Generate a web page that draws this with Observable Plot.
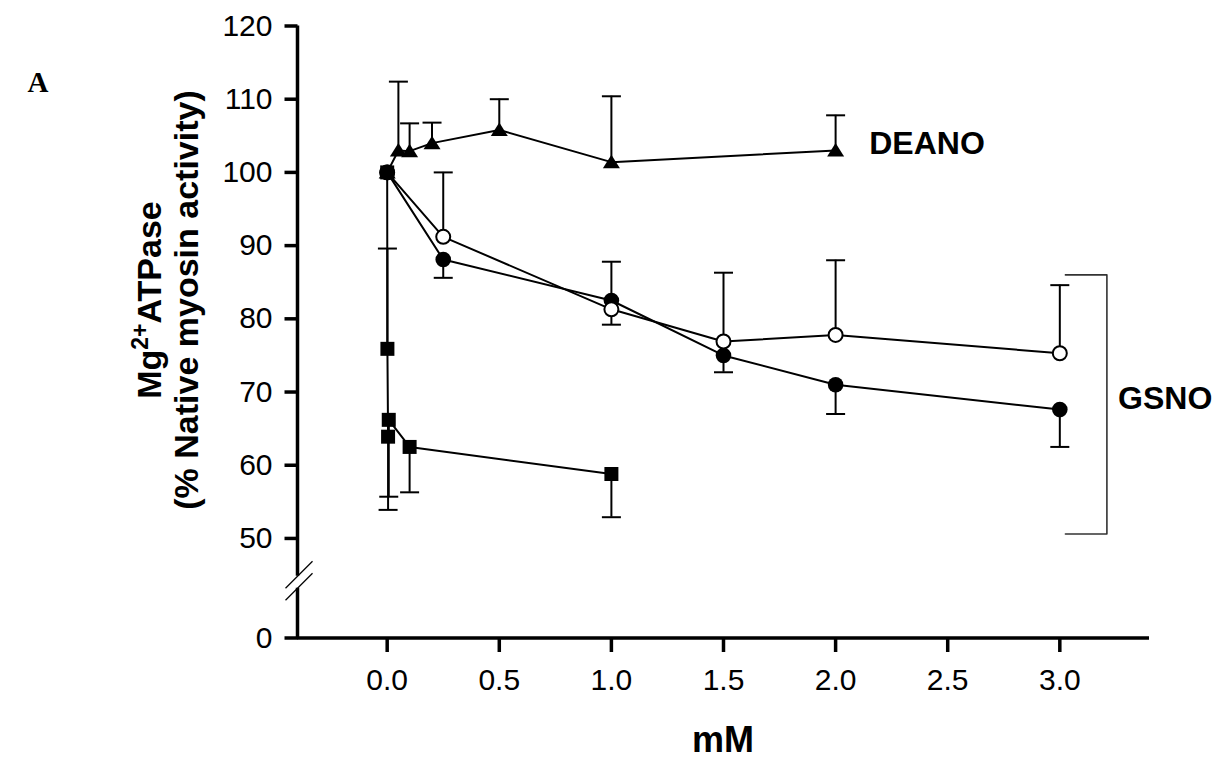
<!DOCTYPE html>
<html><head><meta charset="utf-8">
<script src="https://cdn.jsdelivr.net/npm/d3@7"></script>
<script src="https://cdn.jsdelivr.net/npm/@observablehq/plot@0.6"></script>
<style>
html,body{margin:0;padding:0;background:#fff;overflow:hidden;}
#chart svg{display:block;}
</style></head><body><div id="chart"></div>
<script>
// ---------- data ----------
const deanoX      = [0, 0.05, 0.1, 0.2, 0.5, 1.0, 2.0];
const deanoY      = [100, 103.0, 102.9, 104.0, 105.8, 101.4, 103.0];
const deanoErrHi  = [null, 112.4, 106.7, 106.8, 110.0, 110.4, 107.8];

const gsnoOpenX   = [0, 0.25, 1.0, 1.5, 2.0, 3.0];
const gsnoOpenY   = [100, 91.2, 81.3, 76.9, 77.8, 75.3];
const gsnoOpenErr = [null, 100.0, 87.8, 86.3, 88.0, 84.6];

const gsnoFillX   = [0, 0.25, 1.0, 1.5, 2.0, 3.0];
const gsnoFillY   = [100, 88.1, 82.5, 75.0, 71.0, 67.6];
const gsnoFillErr = [null, 85.6, 79.2, 72.7, 67.0, 62.5];

const squareX     = [0, 0.001, 0.004, 0.007, 0.1, 1.0];
const squareY     = [100, 75.9, 63.9, 66.2, 62.5, 58.8];
const squareErr   = [null, 89.6, 53.9, 55.7, 56.3, 52.9];

const xTicks = [0, 0.5, 1.0, 1.5, 2.0, 2.5, 3.0];
const yTicks = [0, 50, 60, 70, 80, 90, 100, 110, 120];
const yBreak = [25, 31];            // gap in the y axis (data units, lower segment)
const bracketX = [3.025, 3.21, 3.21, 3.025];
const bracketY = [86, 86, 50.6, 50.6];
const labelText = ["DEANO", "GSNO"];
const labelX = [2.15, 3.26];
const labelY = [103.9, 69.1];

// ---------- broken y axis: 0–50 compressed ----------
const lowSpan = 13.6;                       // display units used by the 0–50 segment
const yMap = v => v >= 50 ? v : 50 - (50 - v) / 50 * lowSpan;

// ---------- build ----------
const rows = (xs, ys, es) => xs.map((x, i) => ({x, y: yMap(ys[i]), e: es[i] == null ? null : yMap(es[i])}));
const deano = rows(deanoX, deanoY, deanoErrHi);
const gOpen = rows(gsnoOpenX, gsnoOpenY, gsnoOpenErr);
const gFill = rows(gsnoFillX, gsnoFillY, gsnoFillErr);
const sq = rows(squareX, squareY, squareErr);
const all = [deano, gOpen, gFill, sq];
const errs = all.flat().filter(d => d.e != null);
const tickLabel = new Map(yTicks.map(t => [yMap(t), String(t)]));

const capSym = {draw(c){ c.moveTo(-9.5,0); c.lineTo(9.5,0); }};
const triSym = {draw(c){ c.moveTo(0,-7.5); c.lineTo(8.5,6); c.lineTo(-8.5,6); c.closePath(); }};
const sqSym  = {draw(c){ c.rect(-7,-7,14,14); }};
const slashSym = {draw(c){ c.moveTo(-12,12); c.lineTo(15,-15); }};
const yTickSym = {draw(c){ c.moveTo(-13,0); c.lineTo(0,0); }};
const xTickSym = {draw(c){ c.moveTo(0,0); c.lineTo(0,14); }};

const font = "'Liberation Sans', Arial, Helvetica, sans-serif";
const y0 = yMap(0);
const AX = 3.5;

const plot = Plot.plot({
  width: 1227, height: 762,
  marginLeft: 297, marginRight: 78, marginTop: 25.5, marginBottom: 124.5,
  style: {fontFamily: font, background: "#fff", color: "#000"},
  x: {domain: [-0.4, 3.4]},
  y: {domain: [y0, 120]},
  marks: [
    // axes
    Plot.ruleY([y0], {stroke: "#000", strokeWidth: AX}),
    Plot.ruleX([{a: y0, b: yMap(yBreak[0])}, {a: yMap(yBreak[1]), b: 120}], {x: () => -0.4, y1: "a", y2: "b", stroke: "#000", strokeWidth: AX}),
    Plot.dot(yBreak, {x: () => -0.4, y: d => yMap(d), symbol: slashSym, stroke: "#000", strokeWidth: 1.2, fill: "none"}),
    Plot.dot(yTicks, {x: () => -0.4, y: d => yMap(d), symbol: yTickSym, stroke: "#000", strokeWidth: AX, fill: "none"}),
    Plot.dot(xTicks, {x: d => d, y: () => y0, symbol: xTickSym, stroke: "#000", strokeWidth: AX, fill: "none"}),
    Plot.axisY({ticks: yTicks.map(yMap), tickFormat: d => tickLabel.get(d), tickSize: 0, tickPadding: 25, fontSize: 30, label: null, anchor: "left"}),
    Plot.axisX({ticks: xTicks, tickFormat: d3.format(".1f"), tickSize: 0, tickPadding: 31, fontSize: 30, label: null, anchor: "bottom"}),
    // connecting lines
    ...all.map(s => Plot.line(s, {x: "x", y: "y", stroke: "#000", strokeWidth: 2})),
    // error bars
    Plot.ruleX(errs, {x: "x", y1: "y", y2: "e", stroke: "#000", strokeWidth: 2}),
    Plot.dot(errs, {x: "x", y: "e", symbol: capSym, stroke: "#000", strokeWidth: 2, fill: "none"}),
    // GSNO bracket
    Plot.line(bracketX.map((x, i) => ({x, y: bracketY[i]})), {x: "x", y: "y", stroke: "#333", strokeWidth: 1.6}),
    // markers
    Plot.dot(gFill, {x: "x", y: "y", r: 7.8, fill: "#000", stroke: "none"}),
    Plot.dot(gOpen, {x: "x", y: "y", r: 7, fill: "#fff", stroke: "#000", strokeWidth: 2}),
    Plot.dot(deano, {x: "x", y: "y", symbol: triSym, fill: "#000", stroke: "none"}),
    Plot.dot(sq, {x: "x", y: "y", symbol: sqSym, fill: "#000", stroke: "none"}),
    // series labels
    Plot.text(labelText.map((t, i) => ({t, x: labelX[i], y: labelY[i]})), {x: "x", y: "y", text: "t", textAnchor: "start", fontSize: 32, fontWeight: "bold", fill: "#000"})
  ]
});

const svg = d3.select(plot);
// y-axis title (two lines, rotated)
const yt = svg.append("g").attr("font-family", font).attr("font-weight", "bold").attr("font-size", 34).attr("text-anchor", "middle").attr("fill", "#000");
const t1 = yt.append("text").attr("transform", "translate(161,300) rotate(-90)");
t1.append("tspan").text("Mg");
t1.append("tspan").attr("font-size", 23).attr("dy", -13).text("2+");
t1.append("tspan").attr("dy", 13).text("ATPase");
yt.append("text").attr("transform", "translate(198,300) rotate(-90)").text("(% Native myosin activity)");
// x-axis title
svg.append("text").attr("x", 723).attr("y", 752).attr("text-anchor", "middle").attr("font-family", font).attr("font-weight", "bold").attr("font-size", 36).text("mM");
// panel letter
svg.append("text").attr("x", 38).attr("y", 92).attr("font-family", "'Liberation Serif', 'Times New Roman', serif").attr("font-weight", "bold").attr("font-size", 29).text("A");

document.getElementById("chart").appendChild(plot);
</script></body></html>
